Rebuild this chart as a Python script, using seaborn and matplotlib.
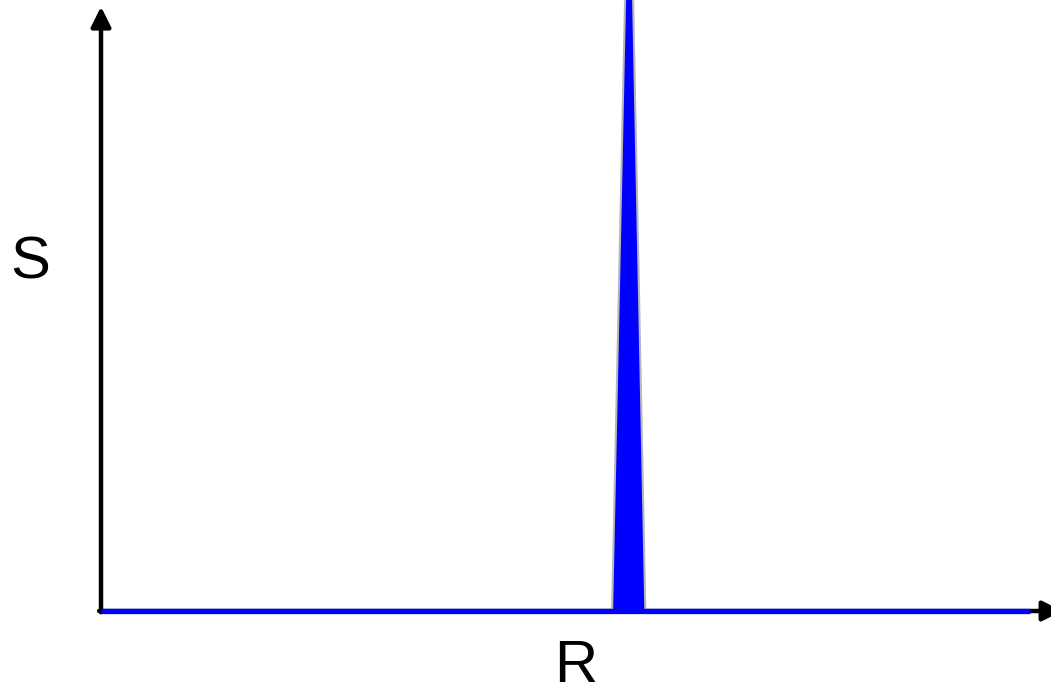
import matplotlib
matplotlib.use("Agg")
import matplotlib.pyplot as plt
import seaborn as sns
import pandas as pd

sns.set_style("white")
plt.rcParams["font.family"] = ["Liberation Sans", "DejaVu Sans"]
plt.rcParams["text.color"] = "black"

# Spectrum: flat baseline with one sharp line
r_values = [0.0, 0.538, 0.556, 0.573, 0.978]
s_values = [0.0, 0.0, 1.32, 0.0, 0.0]
axis_labels = ["R", "S"]

df = pd.DataFrame({"R": r_values, "S": s_values})

W, H = 1051, 688
fig = plt.figure(figsize=(W / 100, H / 100), dpi=100)
left_px, base_px = 101, 611
ax = fig.add_axes([left_px / W, (H - base_px) / H, 1 - left_px / W, base_px / H])
ax.set_xlim(0, 1)
ax.set_ylim(0, 1)
ax.axis("off")

# Axes with arrowheads
arrow_kw = dict(arrowstyle="-|>,head_length=0.6,head_width=0.3",
                color="black", lw=3.2, mutation_scale=20,
                shrinkA=0, shrinkB=0)
ax.annotate("", xy=(0, 0.989), xytext=(0, -0.002), xycoords="axes fraction",
            arrowprops=arrow_kw, annotation_clip=False)
ax.annotate("", xy=(1.012, 0), xytext=(-0.002, 0), xycoords="axes fraction",
            arrowprops=arrow_kw, annotation_clip=False)

# Spectral peak as a filled triangle
ax.fill(df["R"][1:4], df["S"][1:4], facecolor="#0000ff",
        edgecolor="#b8b8b8", lw=1.5, clip_on=False, zorder=3)

# Baseline of the spectrum
sns.lineplot(data=df[df["S"] == 0], x="R", y="S", color="#0000ff",
             lw=3.8, ax=ax, zorder=4, clip_on=False, solid_capstyle="butt")
ax.axis("off")

fig.text(30 / W, 1 - 279 / H, axis_labels[1], fontsize=43,
         ha="center", va="baseline", color="black")
fig.text(576 / W, 1 - 682 / H, axis_labels[0], fontsize=43,
         ha="center", va="baseline", color="black")

fig.savefig("out.png", dpi=100)
